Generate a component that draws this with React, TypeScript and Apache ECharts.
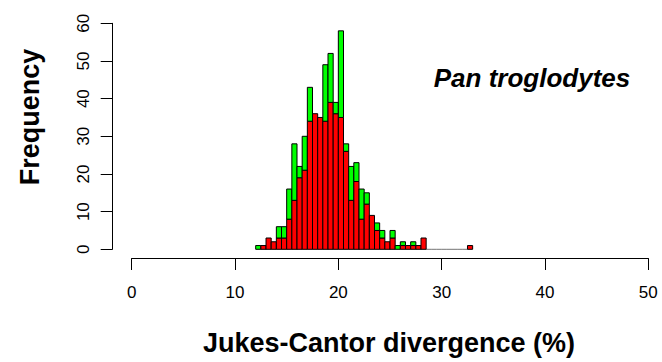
import React, { useEffect, useRef } from "react";
import * as echarts from "echarts";

// Histogram bins (left edge, width 0.5) of Jukes-Cantor divergence (%)
const binStarts = [
  12, 12.5, 13, 13.5, 14, 14.5, 15, 15.5, 16, 16.5, 17, 17.5, 18, 18.5, 19, 19.5,
  20, 20.5, 21, 21.5, 22, 22.5, 23, 23.5, 24, 24.5, 25, 25.5, 26, 26.5, 27, 27.5,
  28, 28.5, 29, 29.5, 30, 30.5, 31, 31.5, 32, 32.5,
];
const binEnds = [
  12.5, 13, 13.5, 14, 14.5, 15, 15.5, 16, 16.5, 17, 17.5, 18, 18.5, 19, 19.5, 20,
  20.5, 21, 21.5, 22, 22.5, 23, 23.5, 24, 24.5, 25, 25.5, 26, 26.5, 27, 27.5, 28,
  28.5, 29, 29.5, 30, 30.5, 31, 31.5, 32, 32.5, 33,
];
// red (lower) part of each bar
const redCounts = [
  0, 1, 3, 2, 3, 3, 8, 13, 19, 21, 34, 36, 35, 34, 39, 36,
  35, 26, 13, 18, 8, 12, 9, 5, 3, 2, 3, 0, 1, 1, 1, 1,
  3, 0, 0, 0, 0, 0, 0, 0, 0, 1,
];
// green (upper, stacked) part of each bar
const greenCounts = [
  1, 0, 0, 0, 3, 3, 8, 15, 3, 9, 9, 0, 0, 15, 13, 3,
  23, 2, 9, 5, 8, 3, 0, 2, 2, 0, 2, 1, 1, 0, 1, 0,
  0, 0, 0, 0, 0, 0, 0, 0, 0, 0,
];
const xTicks = [0, 10, 20, 30, 40, 50];
const yTicks = [0, 10, 20, 30, 40, 50, 60];

const FONT = "'Liberation Sans', Arial, Helvetica, sans-serif";

export default function App() {
  const ref = useRef<HTMLDivElement>(null);
  useEffect(() => {
    if (!ref.current) return;
    const chart = echarts.init(ref.current, undefined, { renderer: "svg" });
    const data = binStarts.map((s, i) => [s, binEnds[i], redCounts[i], greenCounts[i]]);
    const renderItem = (_params: any, api: any) => {
      const x0 = api.value(0);
      const x1 = api.value(1);
      const r = api.value(2);
      const g = api.value(3);
      const p0 = api.coord([x0, 0]);
      const p1 = api.coord([x1, r]);
      const p2 = api.coord([x1, r + g]);
      const children: any[] = [];
      if (r + g === 0) {
        children.push({
          type: "line",
          shape: { x1: p0[0], y1: p0[1], x2: p1[0], y2: p0[1] },
          style: { stroke: "#000", lineWidth: 1, opacity: 0.55 },
        });
      }
      if (r > 0) {
        children.push({
          type: "rect",
          shape: { x: p0[0], y: p1[1], width: p1[0] - p0[0], height: p0[1] - p1[1] },
          style: { fill: "#ff0000", stroke: "#000", lineWidth: 1 },
        });
      }
      if (g > 0) {
        children.push({
          type: "rect",
          shape: { x: p0[0], y: p2[1], width: p1[0] - p0[0], height: p1[1] - p2[1] },
          style: { fill: "#00ff00", stroke: "#000", lineWidth: 1 },
        });
      }
      return { type: "group", children };
    };
    const option: any = {
      animation: false,
      grid: [
        // plotting area for the bars
        { left: 131.7, right: 13.7, top: 23.3, height: 226 },
        // strip holding the detached x axis
        { left: 131.7, right: 13.7, top: 248.3, height: 10 },
        // strip holding the detached y axis
        { left: 112.3, width: 2, top: 23.3, height: 226 },
      ],
      xAxis: [
        { gridIndex: 0, type: "value", min: 0, max: 50, show: false },
        {
          gridIndex: 1,
          type: "value",
          min: xTicks[0],
          max: xTicks[xTicks.length - 1],
          interval: xTicks[1] - xTicks[0],
          axisLine: { show: true, lineStyle: { color: "#000", width: 1 } },
          axisTick: { show: true, length: 11.7, lineStyle: { color: "#000", width: 1 } },
          axisLabel: { color: "#000", fontSize: 17, fontFamily: FONT, margin: 26 },
          splitLine: { show: false },
        },
        { gridIndex: 2, type: "value", min: 0, max: 1, show: false },
      ],
      yAxis: [
        { gridIndex: 0, type: "value", min: 0, max: 60, show: false },
        { gridIndex: 1, type: "value", min: 0, max: 1, show: false },
        {
          gridIndex: 2,
          type: "value",
          min: yTicks[0],
          max: yTicks[yTicks.length - 1],
          interval: yTicks[1] - yTicks[0],
          axisLine: { show: true, lineStyle: { color: "#000", width: 1 } },
          axisTick: { show: true, length: 11.6, lineStyle: { color: "#000", width: 1 } },
          axisLabel: { color: "#000", fontSize: 17, fontFamily: FONT, margin: 20, rotate: 90 },
          splitLine: { show: false },
        },
      ],
      series: [
        {
          type: "custom",
          xAxisIndex: 0,
          yAxisIndex: 0,
          renderItem,
          data,
          encode: { x: [0, 1], y: [2] },
          clip: false,
        },
      ],
      graphic: [
        {
          type: "text",
          x: 30,
          y: 117,
          rotation: Math.PI / 2,
          style: {
            text: "Frequency",
            fontSize: 27,
            fontWeight: "bold",
            fontFamily: FONT,
            fill: "#000",
            textAlign: "center",
            textVerticalAlign: "middle",
          },
        },
        {
          type: "text",
          x: 389,
          y: 343,
          style: {
            text: "Jukes-Cantor divergence (%)",
            fontSize: 27,
            fontWeight: "bold",
            fontFamily: FONT,
            fill: "#000",
            textAlign: "center",
            textVerticalAlign: "middle",
          },
        },
        {
          type: "text",
          x: 532,
          y: 78,
          style: {
            text: "Pan troglodytes",
            fontSize: 26,
            fontWeight: "bold",
            fontStyle: "italic",
            fontFamily: FONT,
            fill: "#000",
            textAlign: "center",
            textVerticalAlign: "middle",
          },
        },
      ],
    };
    chart.setOption(option);
    return () => chart.dispose();
  }, []);
  return (
    <div
      ref={ref}
      style={{ position: "fixed", left: 0, top: 0, width: 662, height: 362, background: "#fff" }}
    />
  );
}
